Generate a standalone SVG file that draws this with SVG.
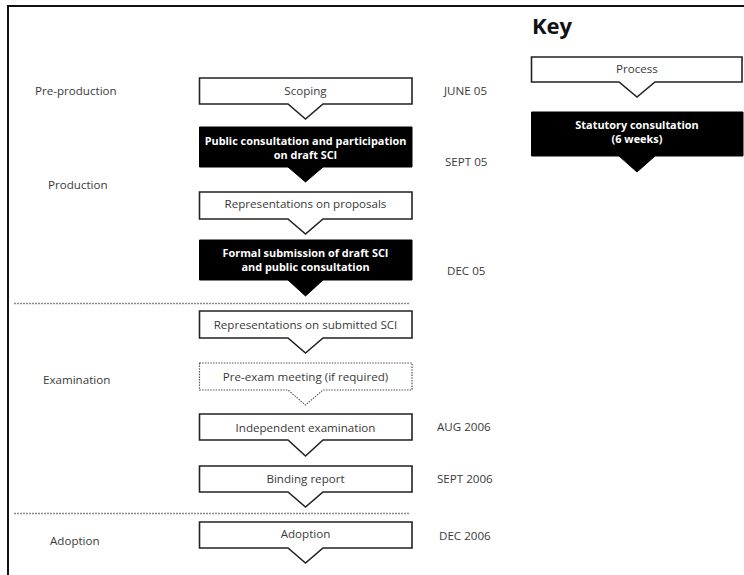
<svg xmlns="http://www.w3.org/2000/svg" width="744" height="575" viewBox="0 0 744 575">
<style>
.lbl{font-family:"Open Sans","Noto Sans",sans-serif;font-size:11.6px;fill:#3a3a3a}
.bt{font-family:"Open Sans","Noto Sans",sans-serif;font-size:11.6px;fill:#3a3a3a;text-anchor:middle}
.wt{font-family:"Open Sans","Noto Sans",sans-serif;font-size:10.9px;font-weight:bold;fill:#ffffff;text-anchor:middle}
.box{fill:#ffffff;stroke:#222222;stroke-width:1.6}
.blk{fill:#000000;stroke:#000000;stroke-width:1}
.dbox{fill:#ffffff;stroke:#555555;stroke-width:1.2;stroke-dasharray:1.5 1.2}
.sep{stroke:#8a8a8a;stroke-width:1.5;stroke-dasharray:2 1}
</style>
<rect x="0" y="0" width="744" height="575" fill="#ffffff"/>
<g id="frame">
<path d="M8,575 V6 H744" fill="none" stroke="#111111" stroke-width="2"/>
</g>
<g id="separators">
<line class="sep" x1="14" y1="303.5" x2="410" y2="303.5"/>
<line class="sep" x1="14" y1="513.5" x2="410" y2="513.5"/>
</g>
<g id="stage-labels">
<text class="lbl" x="35" y="95">Pre-production</text>
<text class="lbl" x="48" y="189">Production</text>
<text class="lbl" x="43" y="384">Examination</text>
<text class="lbl" x="50" y="545">Adoption</text>
</g>
<g id="dates">
<text class="lbl" x="444" y="95">JUNE 05</text>
<text class="lbl" x="445" y="166">SEPT 05</text>
<text class="lbl" x="447" y="275">DEC 05</text>
<text class="lbl" x="437" y="431">AUG 2006</text>
<text class="lbl" x="437" y="483">SEPT 2006</text>
<text class="lbl" x="439" y="540">DEC 2006</text>
</g>
<g id="connectors"></g>
<g id="scoping">
<path class="box" d="M199.5,78 H412 V104 H323 L305.5,119 L288,104 H199.5 Z"/>
<text class="bt" x="305.5" y="95">Scoping</text>
</g>
<g id="public-consultation">
<path class="blk" d="M199.5,127 H412 V167 H323 L305.5,182 L288,167 H199.5 Z"/>
<text class="wt" x="305.5" y="144.5">Public consultation and participation</text>
<text class="wt" x="305.5" y="158.5">on draft SCI</text>
</g>
<g id="representations-proposals">
<path class="box" d="M199.5,192 H412 V219 H323 L305.5,234 L288,219 H199.5 Z"/>
<text class="bt" x="305.5" y="208">Representations on proposals</text>
</g>
<g id="formal-submission">
<path class="blk" d="M199.5,240 H412 V280 H323 L305.5,296 L288,280 H199.5 Z"/>
<text class="wt" x="305.5" y="257">Formal submission of draft SCI</text>
<text class="wt" x="305.5" y="271">and public consultation</text>
</g>
<g id="representations-submitted">
<path class="box" d="M199.5,311 H412 V338 H323 L305.5,353 L288,338 H199.5 Z"/>
<text class="bt" x="305.5" y="329">Representations on submitted SCI</text>
</g>
<g id="pre-exam">
<path class="dbox" d="M199.5,363 H412 V390 H323 L305.5,405 L288,390 H199.5 Z"/>
<text class="bt" x="305.5" y="381">Pre-exam meeting (if required)</text>
</g>
<g id="independent-examination">
<path class="box" d="M199.5,414 H412 V440 H323 L305.5,456 L288,440 H199.5 Z"/>
<text class="bt" x="305.5" y="432">Independent examination</text>
</g>
<g id="binding-report">
<path class="box" d="M199.5,466 H412 V492 H323 L305.5,507 L288,492 H199.5 Z"/>
<text class="bt" x="305.5" y="483">Binding report</text>
</g>
<g id="adoption">
<path class="box" d="M199.5,522 H412 V548 H323 L305.5,563 L288,548 H199.5 Z"/>
<text class="bt" x="305.5" y="538">Adoption</text>
</g>
<g id="key">
<text x="532" y="34" style="font-family:'Open Sans','Noto Sans',sans-serif;font-size:22px;font-weight:bold;fill:#111111">Key</text>
</g>
<g id="key-process">
<path class="box" d="M531.5,57 H742 V82 H655 L637,97 L619,82 H531.5 Z"/>
<text class="bt" x="637" y="73">Process</text>
</g>
<g id="key-statutory">
<path class="blk" d="M531.5,112 H743 V156 H655 L637,172 L619,156 H531.5 Z"/>
<text class="wt" x="637" y="129">Statutory consultation</text>
<text class="wt" x="637" y="143">(6 weeks)</text>
</g>
</svg>
